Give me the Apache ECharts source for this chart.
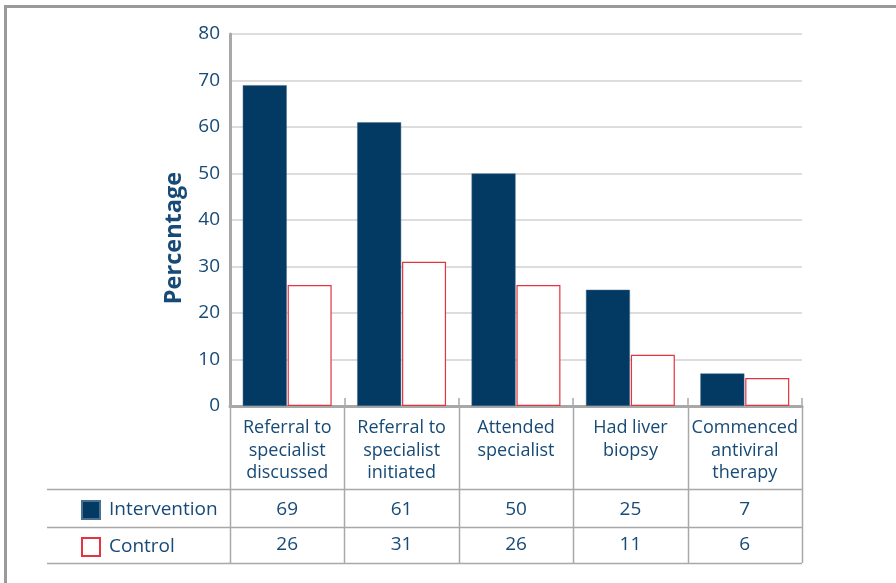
<!DOCTYPE html>
<html>
<head>
<meta charset="utf-8">
<script src="https://cdn.jsdelivr.net/npm/echarts@6/dist/echarts.min.js"></script>
<style>
  html, body { margin: 0; padding: 0; background: #fff; }
  #chart { width: 896px; height: 583px; }
</style>
</head>
<body>
<div id="chart"></div>
<script>
// Referral and treatment outcomes, intervention vs control (%)
const categories = [
  'Referral to\nspecialist\ndiscussed',
  'Referral to\nspecialist\ninitiated',
  'Attended\nspecialist',
  'Had liver\nbiopsy',
  'Commenced\nantiviral\ntherapy'
];
const interventionValues = [69, 61, 50, 25, 7];
const controlValues = [26, 31, 26, 11, 6];
const seriesNames = ['Intervention', 'Control'];
const yTicks = { min: 0, max: 80, interval: 10 };
const yTitle = 'Percentage';

const W = 896, H = 583;
const gridL = 230, gridR = 94, gridT = 34, gridB = 177;
const axisY = H - gridB;
const tableLeft = 47;
const rowLines = [489, 527, 563];
const textColor = '#174a76';
const navy = '#033a63';
const red = '#e3343f';
const lineGray = '#a8a8a8';
const font = '"Open Sans", "Noto Sans", sans-serif';

const chart = echarts.init(document.getElementById('chart'), null, { renderer: 'canvas' });

const plotW = W - gridL - gridR;
const catW = plotW / categories.length;

// table rule lines
const graphics = [];
for (let i = 0; i <= categories.length; i++) {
  const x = Math.round(gridL + i * catW) + 0.5;
  graphics.push({
    type: 'line', silent: true,
    shape: { x1: x, y1: axisY, x2: x, y2: rowLines[rowLines.length - 1] },
    style: { stroke: lineGray, lineWidth: 1.5 }
  });
}
rowLines.forEach(y => {
  graphics.push({
    type: 'line', silent: true,
    shape: { x1: tableLeft, y1: y + 0.5, x2: gridL + plotW, y2: y + 0.5 },
    style: { stroke: lineGray, lineWidth: 1.5 }
  });
});
// outer frame
graphics.push({
  type: 'rect', silent: true,
  shape: { x: 5.5, y: 6.5, width: W + 20, height: H + 20 },
  style: { fill: 'none', stroke: '#9a9a9a', lineWidth: 3 }
});
// y-axis title
graphics.push({
  type: 'text', silent: true,
  x: 174, y: 238, rotation: Math.PI / 2,
  style: {
    text: yTitle, fill: textColor, font: 'bold 23.5px ' + font,
    textAlign: 'center', textVerticalAlign: 'middle'
  }
});

function valueAxis(values, offset) {
  return {
    type: 'category', gridIndex: 0, position: 'bottom', offset: offset,
    data: values.map(String),
    axisLine: { show: false }, axisTick: { show: false }, splitLine: { show: false },
    axisLabel: { interval: 0, margin: 0, fontSize: 19, fontFamily: font, color: textColor }
  };
}

chart.setOption({
  animation: false,
  backgroundColor: '#fff',
  grid: { left: gridL, right: gridR, top: gridT, bottom: gridB, containLabel: false },
  legend: {
    orient: 'vertical', left: 81, top: 500, icon: 'rect',
    itemWidth: 18, itemHeight: 18, itemGap: 17, padding: 0,
    data: seriesNames,
    textStyle: { fontSize: 19, fontFamily: font, color: textColor, padding: [0, 0, 0, 4] }
  },
  xAxis: [
    {
      type: 'category', data: categories, position: 'bottom',
      axisLine: { show: true, lineStyle: { color: lineGray, width: 3 } },
      axisTick: { show: true, inside: true, length: 8, interval: 0, lineStyle: { color: lineGray, width: 1.5 } },
      axisLabel: { interval: 0, margin: 11, fontSize: 18, lineHeight: 22.5, fontFamily: font, color: textColor }
    },
    valueAxis(interventionValues, 94),
    valueAxis(controlValues, 129)
  ],
  yAxis: {
    type: 'value', min: yTicks.min, max: yTicks.max, interval: yTicks.interval,
    axisLine: { show: true, lineStyle: { color: lineGray, width: 3 } },
    axisTick: { show: false },
    axisLabel: { fontSize: 19, fontFamily: font, color: textColor, margin: 10 },
    splitLine: { lineStyle: { color: '#d2d2d2', width: 1.5 } }
  },
  series: [
    {
      name: seriesNames[0], type: 'bar', data: interventionValues,
      barWidth: 44, barGap: '2%',
      itemStyle: { color: navy, borderColor: '#4a6f8f', borderWidth: 0.5 }
    },
    {
      name: seriesNames[1], type: 'bar', data: controlValues,
      barWidth: 44, barGap: '2%',
      itemStyle: { color: '#fff', borderColor: red, borderWidth: 1.2 }
    }
  ],
  graphic: graphics
});
</script>
</body>
</html>
